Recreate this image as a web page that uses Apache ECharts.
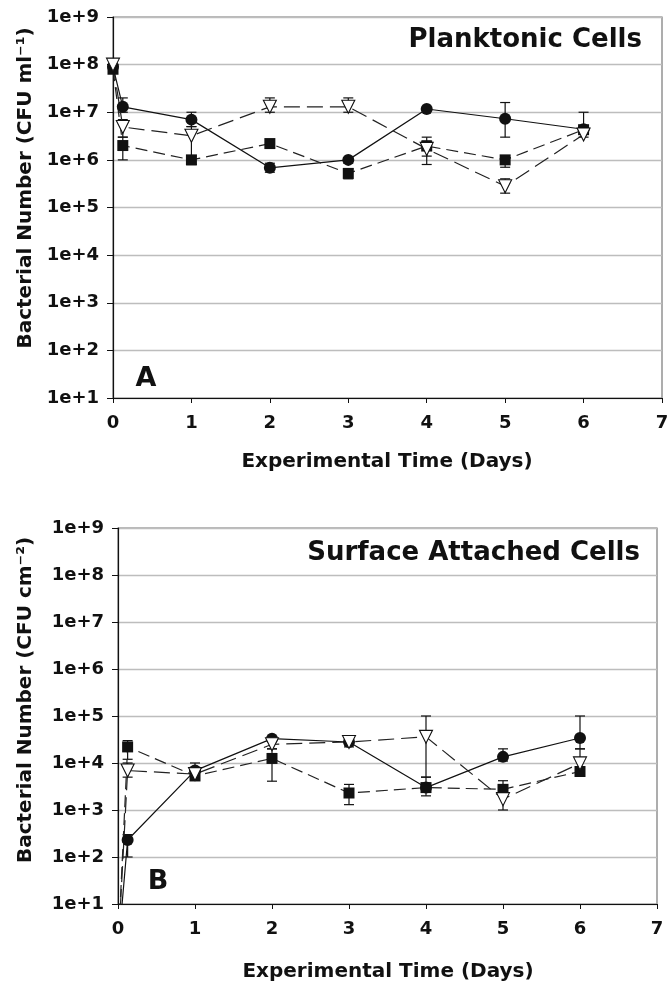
<!DOCTYPE html>
<html>
<head>
<meta charset="utf-8">
<script src="https://cdn.jsdelivr.net/npm/echarts@6/dist/echarts.min.js"></script>
<style>
  html, body { margin: 0; padding: 0; background: #fff; }
  #chart { width: 672px; height: 995px; }
</style>
</head>
<body>
<div id="chart"></div>
<script>
// sampling times (days)
const days = [0, 0.125, 1, 2, 3, 4, 5, 6];

// Panel A: planktonic cells (CFU/ml)
const planktonCircle = [9e7, 1.3e7, 7e6, 6.8e5, 1e6, 1.17e7, 7.3e6, 4.4e6];
const planktonCircleErr = [null, [1e7, 2e7], [5e6, 1e7], [5.5e5, 8.5e5], [8.5e5, 1.1e6], null, [3e6, 1.6e7], [3e6, 1e7]];
const planktonSquare = [8e7, 2e6, 1e6, 2.2e6, 5.2e5, 1.95e6, 1e6, 4.3e6];
const planktonSquareErr = [null, [1e6, 3e6], [8e5, 1.2e6], null, [4e5, 6.5e5], [1.2e6, 3e6], [7e5, 1.1e6], null];
const planktonTri = [1e8, 4.9e6, 3.2e6, 1.3e7, 1.3e7, 1.7e6, 2.8e5, 3.4e6];
const planktonTriErr = [null, [3e6, 7e6], [8e5, 5e6], [1e7, 2e7], [1e7, 2e7], [8e5, 2.5e6], [2e5, 4e5], null];

// Panel B: surface attached cells (CFU/cm2); day 0 is below the axis
const surfaceCircle = [1, 230, 6900, 3.3e4, 2.8e4, 3000, 1.35e4, 3.4e4];
const surfaceCircleErr = [null, [100, 300], [5500, 1e4], [3e4, 3.6e4], [2.4e4, 3.2e4], [2.5e3, 3.5e3], [1.1e4, 2e4], [2e4, 1e5]];
const surfaceSquare = [1, 2.2e4, 5300, 1.25e4, 2.3e3, 3000, 2750, 6600];
const surfaceSquareErr = [null, [1.2e4, 3e4], [4.5e3, 6e3], [4.1e3, 2e4], [1.3e3, 3.5e3], [2e3, 5e3], [2.2e3, 4.2e3], [5.5e3, 7.5e3]];
const surfaceTri = [1, 6900, 5800, 2.5e4, 2.8e4, 3.6e4, 1.7e3, 9800];
const surfaceTriErr = [null, [5e3, 1e4], [5e3, 7e3], [2e4, 3e4], [2.2e4, 3e4], [5e3, 1e5], [1e3, 2.2e3], [7e3, 2e4]];

const FONT = 'DejaVu Sans';
const INK = '#111';

function toPoints(vals) {
    return vals.map((v, i) => (v < 10 ? { value: [days[i], v], symbol: 'none' } : [days[i], v]));
}

function toErr(errs) {
    const out = [];
    errs.forEach((e, i) => { if (e) out.push([days[i], e[0], e[1]]); });
    return out;
}

function errorBarItem(params, api) {
    const x = api.value(0);
    const lo = api.coord([x, api.value(1)]);
    const hi = api.coord([x, api.value(2)]);
    const w = 5;
    const style = { stroke: INK, lineWidth: 1.2 };
    return {
        type: 'group',
        children: [
            { type: 'line', shape: { x1: lo[0], y1: lo[1], x2: hi[0], y2: hi[1] }, style },
            { type: 'line', shape: { x1: lo[0] - w, y1: lo[1], x2: lo[0] + w, y2: lo[1] }, style },
            { type: 'line', shape: { x1: hi[0] - w, y1: hi[1], x2: hi[0] + w, y2: hi[1] }, style },
        ],
    };
}

function xAxisFor(idx) {
    return {
        type: 'value', gridIndex: idx, min: 0, max: 7, interval: 1,
        axisLine: { lineStyle: { color: INK, width: 1.2 } },
        axisTick: { length: 5, lineStyle: { color: INK } },
        axisLabel: { color: INK, fontFamily: FONT, fontWeight: 'bold', fontSize: 18, margin: 16 },
        splitLine: { show: false },
    };
}

function yAxisFor(idx) {
    return {
        type: 'log', logBase: 10, gridIndex: idx, min: 10, max: 1e9, interval: 1,
        axisLine: { show: true, lineStyle: { color: INK, width: 1.2 } },
        axisTick: { show: true, length: 6, lineStyle: { color: INK } },
        axisLabel: {
            color: INK, fontFamily: FONT, fontWeight: 'bold', fontSize: 18, margin: 14,
            formatter: (v) => '1e+' + Math.round(Math.log10(v)),
        },
        splitLine: { show: true, lineStyle: { color: '#bdbdbd', width: 1.3 } },
    };
}

function seriesFor(idx, circ, circErr, sq, sqErr, tri, triErr) {
    const base = { type: 'line', xAxisIndex: idx, yAxisIndex: idx, clip: true, z: 3 };
    const err = (data) => ({
        type: 'custom', xAxisIndex: idx, yAxisIndex: idx, renderItem: errorBarItem,
        data, z: 1, silent: true,
    });
    return [
        err(toErr(circErr)), err(toErr(sqErr)), err(toErr(triErr)),
        Object.assign({}, base, {
            data: toPoints(circ), symbol: 'circle', symbolSize: 12,
            itemStyle: { color: INK }, lineStyle: { color: INK, width: 1.2 },
        }),
        Object.assign({}, base, {
            data: toPoints(sq), symbol: 'rect', symbolSize: 11,
            itemStyle: { color: INK }, lineStyle: { color: '#222', width: 1.2, type: [12, 6] },
        }),
        Object.assign({}, base, {
            data: toPoints(tri), symbol: 'triangle', symbolSize: 13, symbolRotate: 180,
            itemStyle: { color: '#fff', borderColor: INK, borderWidth: 1.1 },
            lineStyle: { color: '#222', width: 1.2, type: [16, 7] },
        }),
    ];
}

function label(text, x, y, size, align, rotate) {
    return {
        type: 'text', x, y, rotation: rotate ? Math.PI / 2 : 0, z: 10,
        style: {
            text, fill: INK, font: `bold ${size}px "${FONT}"`,
            textAlign: align, textVerticalAlign: 'middle',
        },
    };
}

const chart = echarts.init(document.getElementById('chart'));
chart.setOption({
    backgroundColor: '#fff',
    animation: false,
    grid: [
        { left: 113, top: 17, width: 549, height: 381, show: true, borderColor: '#777', borderWidth: 1.2 },
        { left: 118, top: 528, width: 539, height: 376, show: true, borderColor: '#777', borderWidth: 1.2 },
    ],
    xAxis: [xAxisFor(0), xAxisFor(1)],
    yAxis: [yAxisFor(0), yAxisFor(1)],
    series: [
        ...seriesFor(0, planktonCircle, planktonCircleErr, planktonSquare, planktonSquareErr, planktonTri, planktonTriErr),
        ...seriesFor(1, surfaceCircle, surfaceCircleErr, surfaceSquare, surfaceSquareErr, surfaceTri, surfaceTriErr),
    ],
    graphic: [
        label('Planktonic Cells', 642, 40, 26, 'right'),
        label('Surface Attached Cells', 640, 553, 26, 'right'),
        label('A', 146, 379, 27, 'center'),
        label('B', 158, 882, 27, 'center'),
        label('Experimental Time (Days)', 387, 462, 20, 'center'),
        label('Experimental Time (Days)', 388, 972, 20, 'center'),
        label('Bacterial Number (CFU ml⁻¹)', 26, 188, 20, 'center', true),
        label('Bacterial Number (CFU cm⁻²)', 26, 700, 20, 'center', true),
    ],
});
</script>
</body>
</html>
